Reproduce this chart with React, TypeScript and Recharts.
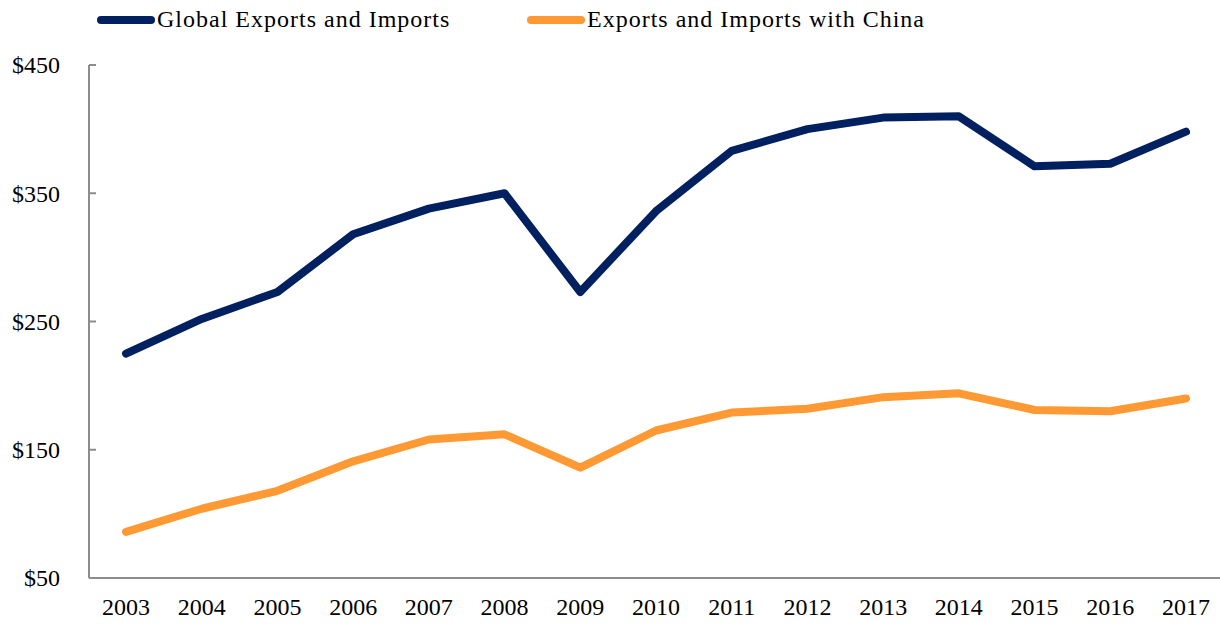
import { LineChart, Line, XAxis, YAxis, Legend } from 'recharts';

const years = ['2003', '2004', '2005', '2006', '2007', '2008', '2009', '2010', '2011', '2012', '2013', '2014', '2015', '2016', '2017'];
const globalTrade = [225, 252, 273, 318, 338, 350, 273, 336, 383, 400, 409, 410, 371, 373, 398];
const chinaTrade = [86, 104, 118, 141, 158, 162, 136, 165, 179, 182, 191, 194, 181, 180, 190];
const yTicks = [50, 150, 250, 350, 450];

const NAVY = '#002060';
const ORANGE = '#FF9933';
const FONT = '"Liberation Serif", serif';

const data = years.map((y, i) => ({ year: y, global: globalTrade[i], china: chinaTrade[i] }));

const legendItems = [
  { label: 'Global Exports and Imports', color: NAVY, left: 97 },
  { label: 'Exports and Imports with China', color: ORANGE, left: 527 },
];

function LegendContent() {
  return (
    <div style={{ position: 'relative', height: 40, fontFamily: FONT, fontSize: 24, letterSpacing: 1, color: '#000' }}>
      {legendItems.map(it => (
        <div key={it.label} style={{ position: 'absolute', left: it.left, top: 6, display: 'flex', alignItems: 'center', whiteSpace: 'nowrap' }}>
          <span style={{ display: 'inline-block', width: 58, height: 8, borderRadius: 4, background: it.color }} />
          <span style={{ marginLeft: 2 }}>{it.label}</span>
        </div>
      ))}
    </div>
  );
}

function YTick(props: any) {
  const { x, y, payload } = props;
  return (
    <g>
      <line x1={x} x2={x + 7} y1={y} y2={y} stroke="#8c8c8c" strokeWidth={2} />
      <text x={x - 29} y={y} dy="0.35em" textAnchor="end" fontFamily={FONT} fontSize={24} fill="#000">
        ${payload.value}
      </text>
    </g>
  );
}

export default function App() {
  return (
    <div style={{ position: 'absolute', left: 0, top: 0, background: '#fff' }}>
      <LineChart width={1220} height={624} data={data} margin={{ top: 25, right: 0, left: 0, bottom: 0 }}>
        <Legend verticalAlign="top" align="left" content={<LegendContent />} wrapperStyle={{ left: 0, top: 0, width: 1220 }} />
        <XAxis
          dataKey="year"
          height={46}
          padding={{ left: 37, right: 34 }}
          tickLine={false}
          tickSize={0}
          tickMargin={20}
          stroke="#8c8c8c"
          strokeWidth={2}
          tick={{ fontFamily: FONT, fontSize: 24, fill: '#000' }}
        />
        <YAxis
          width={89}
          domain={[50, 450]}
          ticks={yTicks}
          tickLine={false}
          tickSize={0}
          tickMargin={0}
          stroke="#8c8c8c"
          strokeWidth={2}
          tick={<YTick />}
        />
        <Line dataKey="global" stroke={NAVY} strokeWidth={8} dot={false} strokeLinecap="round" strokeLinejoin="round" isAnimationActive={false} />
        <Line dataKey="china" stroke={ORANGE} strokeWidth={8} dot={false} strokeLinecap="round" strokeLinejoin="round" isAnimationActive={false} />
      </LineChart>
    </div>
  );
}
